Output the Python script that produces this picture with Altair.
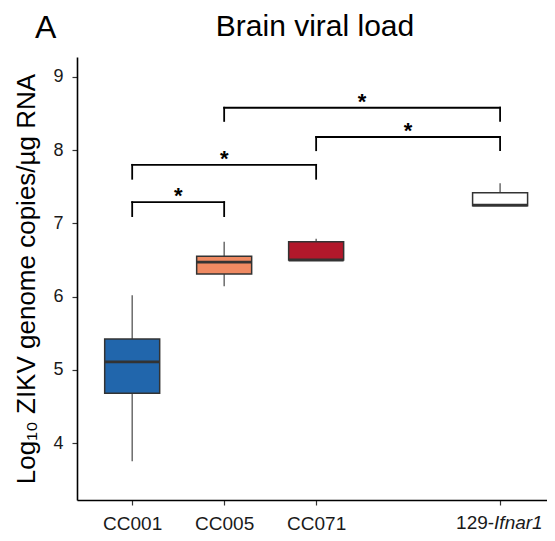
import altair as alt
import pandas as pd

# ---- data ----
groups = ["CC001", "CC005", "CC071", "129-Ifnar1"]
xpos = [1, 2, 3, 5]
whisk_lo = [3.75, 6.14, 6.50, 7.25]
q1 = [4.68, 6.31, 6.50, 7.24]
median = [5.11, 6.47, 6.50, 7.25]
q3 = [5.42, 6.55, 6.75, 7.42]
whisk_hi = [6.02, 6.75, 6.79, 7.55]
fills = ["#2166AC", "#EF8A62", "#B2182B", "#FFFFFF"]

brk_from = [1, 1, 3, 2]
brk_to = [2, 3, 5, 5]
brk_top = [7.29, 7.80, 8.18, 8.58]
brk_leg = [7.10, 7.61, 8.00, 8.40]
brk_label = ["*", "*", "*", "*"]

yticks = [4, 5, 6, 7, 8, 9]
last_prefix, last_italic = "129-", "Ifnar1"
title_text = "Brain viral load"
panel_text = "A"

FONT = "Liberation Sans"
W, H = 470, 443
XDOM = [0.4, 5.51]
YDOM = [3.222, 9.273]

boxes = pd.DataFrame(dict(group=groups, x=xpos, lo=whisk_lo, q1=q1, med=median,
                          q3=q3, hi=whisk_hi, fill=fills))

rows = []
for a, b, t, l in zip(brk_from, brk_to, brk_top, brk_leg):
    rows.append(dict(x=a, x2=b, y=t, y2=t))
    rows.append(dict(x=a, x2=a, y=l, y2=t))
    rows.append(dict(x=b, x2=b, y=l, y2=t))
brk_lines = pd.DataFrame(rows)
brk_stars = pd.DataFrame(dict(a=brk_from, b=brk_to, y=brk_top, lab=brk_label))

xscale = alt.Scale(domain=XDOM, nice=False, zero=False, padding=0)
yscale = alt.Scale(domain=YDOM, nice=False, zero=False, padding=0)

label_expr = " : ".join(
    f"datum.value == {p} ? '{g}'" for p, g in zip(xpos[:-1], groups[:-1])
) + " : ''"

LABEL_PAD = 9
TICK = 5

xaxis = alt.Axis(values=xpos, labelExpr=label_expr, title=None, grid=False,
                 domainColor="black", domainWidth=1.6, tickColor="#333333",
                 tickWidth=1.2, tickSize=TICK, labelPadding=LABEL_PAD,
                 labelFontSize=19, labelColor="#1a1a1a", labelFont=FONT,
                 labelBaseline="top")
yaxis = alt.Axis(values=yticks, title="Log₁₀ ZIKV genome copies/µg RNA",
                 grid=False, domainColor="black", domainWidth=1.6,
                 tickColor="#333333", tickWidth=1.2, tickSize=TICK,
                 labelPadding=9, labelFontSize=18, labelColor="#1a1a1a",
                 labelFont=FONT, titleFont=FONT, titleFontSize=26,
                 titleFontWeight="normal", titleColor="black", titlePadding=13)


def X(field):
    return alt.X(field, type="quantitative", scale=xscale, axis=xaxis)


def Y(field):
    return alt.Y(field, type="quantitative", scale=yscale, axis=yaxis)


base = alt.Chart(boxes)

whisk_low = base.mark_rule(color="#555555", strokeWidth=1.3).encode(
    x=X("x"), y=Y("lo"), y2="q1")
whisk_up = base.mark_rule(color="#555555", strokeWidth=1.3).encode(
    x=X("x"), y=Y("q3"), y2="hi")
box = base.mark_bar(size=55, stroke="#333333", strokeWidth=1.5).encode(
    x=X("x"), y=Y("q1"), y2="q3", fill=alt.Fill("fill:N", scale=None))
med_line = base.mark_bar(size=55, stroke="#333333", strokeWidth=2.8,
                         fillOpacity=0).encode(
    x=X("x"), y=Y("med"), y2="med")

brackets = alt.Chart(brk_lines).mark_rule(color="black", strokeWidth=1.8,
                                          strokeCap="square").encode(
    x=X("x"), x2="x2", y=Y("y"), y2="y2")
stars = alt.Chart(brk_stars).transform_calculate(
    mid="(datum.a + datum.b) / 2"
).mark_text(fontSize=22, fontWeight="bold", font=FONT, baseline="alphabetic",
            align="center", dy=1, color="black").encode(
    x=X("mid:Q"), y=Y("y"), text="lab:N")

last = boxes.iloc[[-1]].assign(pre=last_prefix, ital=last_italic)
ly = H + TICK + LABEL_PAD
lab_pre = alt.Chart(last).mark_text(fontSize=19, font=FONT, align="right",
                                    baseline="top", dx=-6, color="#1a1a1a").encode(
    x=X("x"), y=alt.value(ly), text="pre:N")
lab_it = alt.Chart(last).mark_text(fontSize=19, font=FONT, align="left",
                                   baseline="top", dx=-6, fontStyle="italic",
                                   color="#1a1a1a").encode(
    x=X("x"), y=alt.value(ly), text="ital:N")

texts = pd.DataFrame(dict(t=[panel_text], ttl=[title_text]))
panel = alt.Chart(texts).mark_text(
    fontSize=32, font=FONT, align="left", baseline="alphabetic", color="black"
).encode(x=alt.value(-42), y=alt.value(-19), text="t:N")
title = alt.Chart(texts).mark_text(
    fontSize=30, font=FONT, align="center", baseline="alphabetic", color="black"
).encode(x=alt.value(238), y=alt.value(-21), text="ttl:N")

chart = alt.layer(
    whisk_low, whisk_up, box, med_line, brackets, stars, lab_pre, lab_it,
    panel, title
).properties(
    width=W, height=H,
    padding={"left": 69, "top": 49, "right": 0, "bottom": 33},
    autosize="none",
    background="white",
).configure_view(stroke=None)

chart.save("out.html", embed_options={"renderer": "svg", "actions": False})
